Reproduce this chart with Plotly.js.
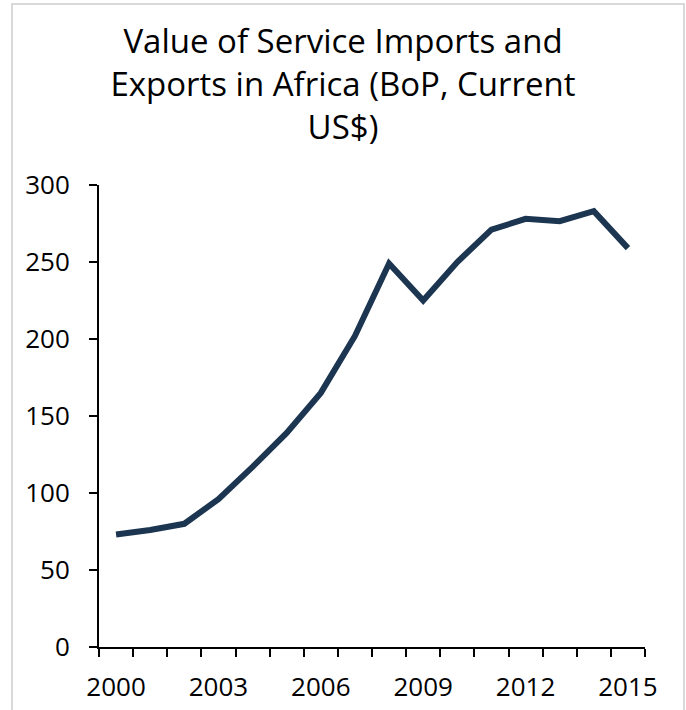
<!DOCTYPE html>
<html>
<head>
<meta charset="utf-8">
<script src="https://cdn.plot.ly/plotly-3.0.1.min.js"></script>
<style>
  html, body { margin: 0; padding: 0; background: #fff; }
  #wrap { position: relative; width: 686px; height: 710px; overflow: hidden; }
  #chart { position: absolute; left: 0; top: 0; width: 686px; height: 710px; }
  #frame { position: absolute; left: 11px; top: 3px; width: 670px; height: 720px;
           border: 2px solid #d9d9d9; border-bottom: none; pointer-events: none; }
</style>
</head>
<body>
<div id="wrap">
  <div id="chart"></div>
  <div id="frame"></div>
</div>
<script>
const years = [2000, 2001, 2002, 2003, 2004, 2005, 2006, 2007, 2008, 2009, 2010, 2011, 2012, 2013, 2014, 2015];
const serviceTrade = [73, 76, 80, 96, 117, 139, 165, 202, 249, 225, 250, 271, 278, 276.5, 283, 259];
const xTickYears = [2000, 2003, 2006, 2009, 2012, 2015];
const yTicks = [0, 50, 100, 150, 200, 250, 300];

const font = "Open Sans, Noto Sans, sans-serif";

Plotly.newPlot('chart', [{
  x: years,
  y: serviceTrade,
  type: 'scatter',
  mode: 'lines',
  line: { color: '#1c3550', width: 6 },
  hoverinfo: 'skip'
}], {
  width: 686,
  height: 710,
  margin: { l: 99, r: 41, t: 185, b: 63 },
  paper_bgcolor: 'rgba(0,0,0,0)',
  plot_bgcolor: 'rgba(0,0,0,0)',
  showlegend: false,
  title: {
    text: 'Value of Service Imports and<br>Exports in Africa (BoP, Current<br>US$)',
    font: { family: font, size: 33, color: '#000' },
    x: 0.5, xref: 'container', xanchor: 'center',
    y: 0.925, yref: 'container', yanchor: 'top'
  },
  xaxis: {
    range: [1999.5, 2015.5],
    tickmode: 'array',
    tickvals: xTickYears,
    ticktext: xTickYears.map(String),
    ticks: '',
    showgrid: false,
    zeroline: false,
    showline: true,
    linecolor: '#000',
    linewidth: 2,
    ticklabelstandoff: 16,
    tickfont: { family: font, size: 26, color: '#000' },
    minor: { ticks: 'outside', tick0: 1999.5, dtick: 1, ticklen: 8, tickwidth: 2, tickcolor: '#000', showgrid: false }
  },
  yaxis: {
    range: [0, 300],
    tickmode: 'array',
    tickvals: yTicks,
    ticks: 'outside',
    ticklen: 8,
    tickwidth: 2,
    tickcolor: '#000',
    showgrid: false,
    zeroline: false,
    showline: true,
    linecolor: '#000',
    linewidth: 2,
    ticklabelstandoff: 14,
    tickfont: { family: font, size: 26, color: '#000' }
  }
}, { displayModeBar: false, staticPlot: true });
</script>
</body>
</html>
